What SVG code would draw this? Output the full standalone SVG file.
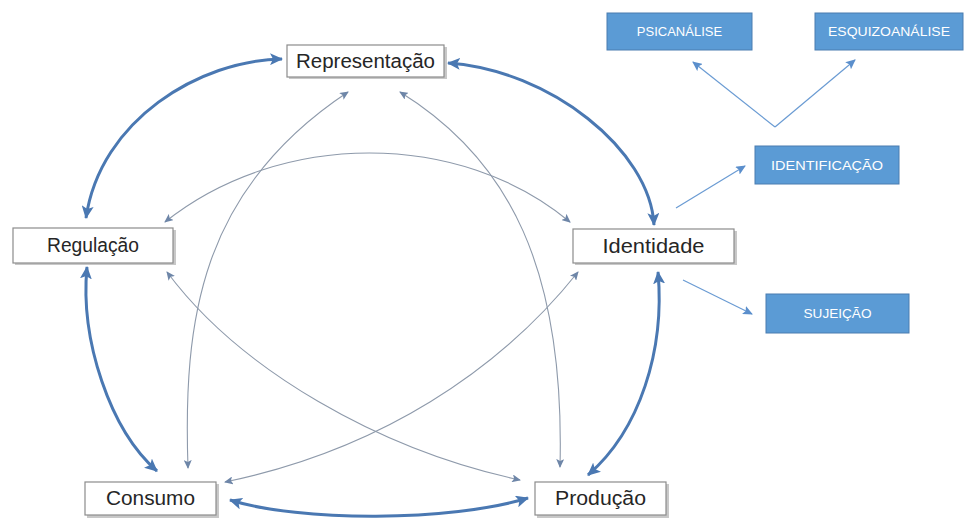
<svg xmlns="http://www.w3.org/2000/svg" width="965" height="521" viewBox="0 0 965 521">
<defs>
<marker id="thick" markerUnits="userSpaceOnUse" markerWidth="14" markerHeight="12" refX="12" refY="6" orient="auto-start-reverse" viewBox="0 0 14 12">
<path d="M0,0 L13,6 L0,12 L3,6 Z" fill="#4a78b2"/>
</marker>
<marker id="thin" markerUnits="userSpaceOnUse" markerWidth="9" markerHeight="8" refX="8" refY="4" orient="auto-start-reverse" viewBox="0 0 9 8">
<path d="M0,0 L9,4 L0,8 L2,4 Z" fill="#6e86a8"/>
</marker>
<marker id="blue" markerUnits="userSpaceOnUse" markerWidth="10" markerHeight="9" refX="9" refY="4.5" orient="auto-start-reverse" viewBox="0 0 10 9">
<path d="M0,0 L10,4.5 L0,9 L2,4.5 Z" fill="#5b8fcc"/>
</marker>
</defs>
<style>
.box{fill:#ffffff;stroke:#8c8c8c;stroke-width:1.2}
.shadow{fill:#c8c8c8}
.lbl{font-family:"Liberation Sans",Arial,sans-serif;font-size:20px;fill:#262626;text-anchor:middle}
.bbox{fill:#5b9bd5;stroke:#4a7db0;stroke-width:1}
.blbl{font-family:"Liberation Sans",Arial,sans-serif;font-size:13px;fill:#ffffff;text-anchor:middle}
.thk{fill:none;stroke:#4a78b2;stroke-width:3;marker-start:url(#thick);marker-end:url(#thick)}
.thn{fill:none;stroke:#8e9aab;stroke-width:1.1;marker-start:url(#thin);marker-end:url(#thin)}
.bl{fill:none;stroke:#6a9bd3;stroke-width:1.2;marker-end:url(#blue)}
</style>
<rect width="965" height="521" fill="#ffffff"/>
<g id="connectors">
<path class="thk" d="M282,59 C200,60 100,120 86,218"/>
<path class="thk" d="M448,63 C550,70 650,150 654,225"/>
<path class="thk" d="M87,267 C80,340 110,430 157,471"/>
<path class="thk" d="M658,272 C665,350 640,430 588,475"/>
<path class="thk" d="M230,500 C300,522 450,522 528,498"/>
<path class="thn" d="M188,468 C183,320 200,190 348,92"/>
<path class="thn" d="M400,92 C510,160 565,270 560,467"/>
<path class="thn" d="M165,222 C280,130 460,130 570,222"/>
<path class="thn" d="M167,272 C240,370 380,450 520,480"/>
<path class="thn" d="M578,272 C500,370 380,450 225,482"/>
<path class="bl" d="M775,127 L693,62"/>
<path class="bl" d="M775,127 L855,60"/>
<path class="bl" d="M676,208 L745,166"/>
<path class="bl" d="M683,280 L752,314"/>
</g>
<g id="representacao">
<rect class="shadow" x="289" y="47" width="158" height="32"/>
<rect class="box" x="287" y="45" width="157" height="32"/>
<text class="lbl" x="365.5" y="68" textLength="139" lengthAdjust="spacingAndGlyphs">Representação</text>
</g>
<g id="regulacao">
<rect class="shadow" x="15" y="230" width="161" height="35"/>
<rect class="box" x="13" y="228" width="160" height="35"/>
<text class="lbl" x="93" y="252" textLength="92" lengthAdjust="spacingAndGlyphs">Regulação</text>
</g>
<g id="identidade">
<rect class="shadow" x="575" y="231" width="162" height="34"/>
<rect class="box" x="573" y="229" width="161" height="34"/>
<text class="lbl" x="653.5" y="253" textLength="102" lengthAdjust="spacingAndGlyphs">Identidade</text>
</g>
<g id="consumo">
<rect class="shadow" x="87" y="484" width="132" height="34"/>
<rect class="box" x="85" y="482" width="131" height="33"/>
<text class="lbl" x="150.5" y="505" textLength="89" lengthAdjust="spacingAndGlyphs">Consumo</text>
</g>
<g id="producao">
<rect class="shadow" x="537" y="484" width="132" height="34"/>
<rect class="box" x="535" y="482" width="131" height="33"/>
<text class="lbl" x="600.5" y="505" textLength="91" lengthAdjust="spacingAndGlyphs">Produção</text>
</g>
<g id="psicanalise">
<rect class="bbox" x="607" y="13" width="145" height="37"/>
<text class="blbl" x="679.5" y="36">PSICANÁLISE</text>
</g>
<g id="esquizoanalise">
<rect class="bbox" x="815" y="13" width="148" height="37"/>
<text class="blbl" x="889" y="36" textLength="122" lengthAdjust="spacingAndGlyphs">ESQUIZOANÁLISE</text>
</g>
<g id="identificacao">
<rect class="bbox" x="755" y="146" width="144" height="38"/>
<text class="blbl" x="827" y="170" textLength="112" lengthAdjust="spacingAndGlyphs">IDENTIFICAÇÃO</text>
</g>
<g id="sujeicao">
<rect class="bbox" x="766" y="294" width="143" height="39"/>
<text class="blbl" x="837.5" y="318" textLength="68" lengthAdjust="spacingAndGlyphs">SUJEIÇÃO</text>
</g>
</svg>
